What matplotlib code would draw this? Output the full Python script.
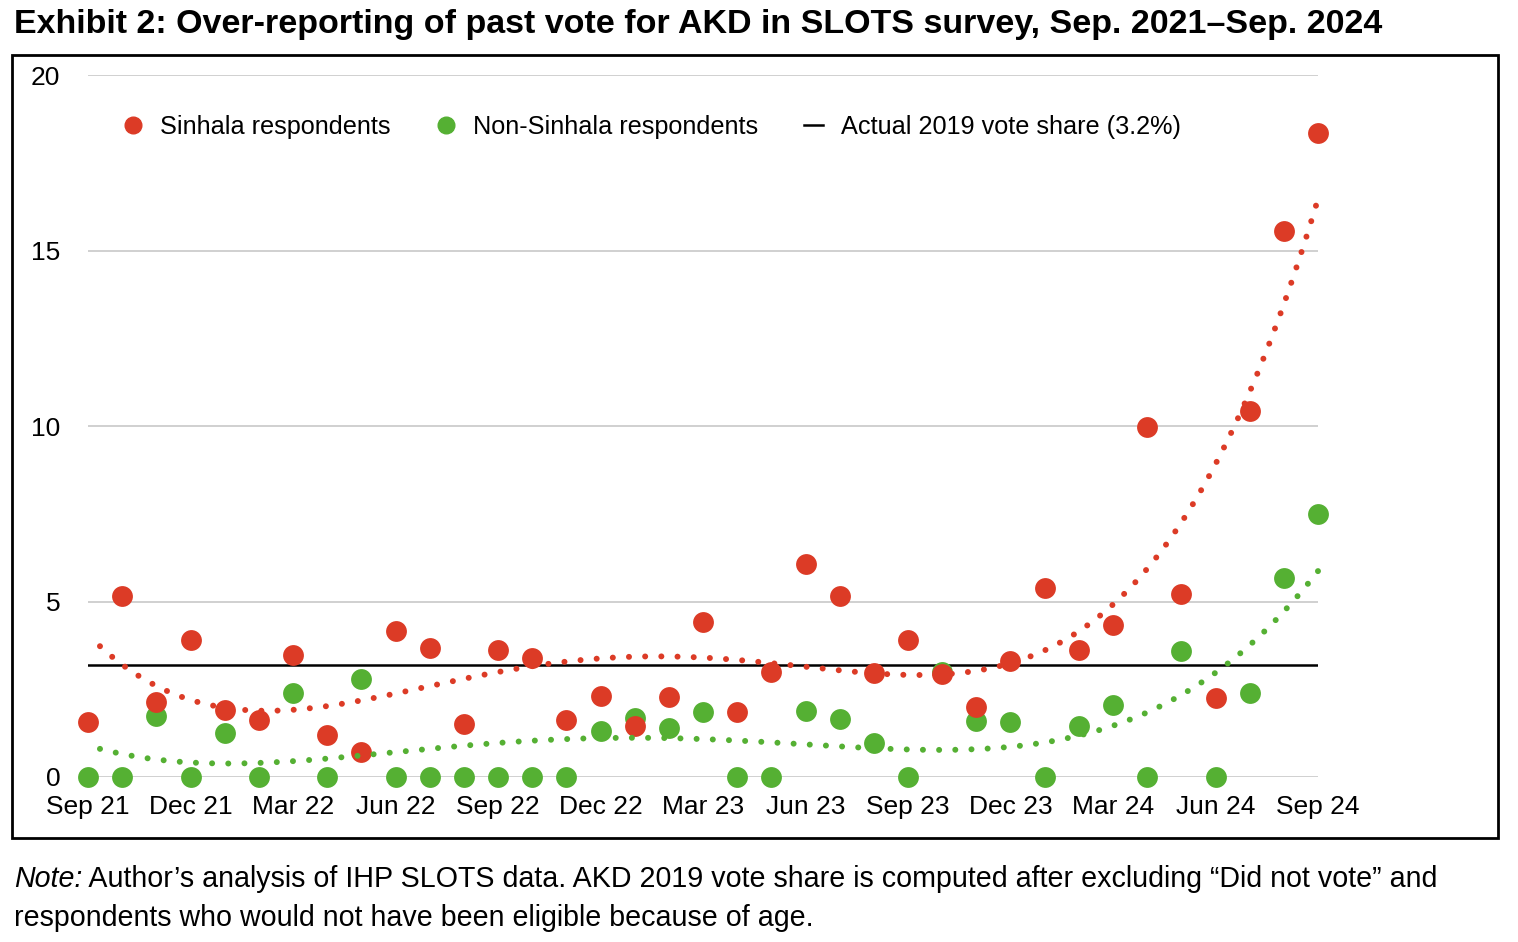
import numpy as np
import matplotlib
matplotlib.use("Agg")
import matplotlib.pyplot as plt
from matplotlib.lines import Line2D
from matplotlib.patches import Rectangle

plt.rcParams["font.family"] = ["Liberation Sans", "DejaVu Sans"]

# monthly survey waves, Sep 2021 .. Sep 2024
months = np.arange(37)
tick_pos = [0, 3, 6, 9, 12, 15, 18, 21, 24, 27, 30, 33, 36]
tick_labels = ["Sep 21", "Dec 21", "Mar 22", "Jun 22", "Sep 22", "Dec 22", "Mar 23",
               "Jun 23", "Sep 23", "Dec 23", "Mar 24", "Jun 24", "Sep 24"]

sinhala = [1.57, 5.16, 2.14, 3.90, 1.91, 1.62, 3.48, 1.20, 0.71, 4.16, 3.67, 1.51,
           3.62, 3.39, 1.62, 2.31, 1.45, 2.28, 4.42, 1.85, 2.99, 6.07, 5.16, 2.96,
           3.90, 2.93, 1.99, 3.30, 5.38, 3.62, 4.33, 9.97, 5.21, 2.25, 10.43, 15.56, 18.35]
non_sinhala = [0, 0, 1.74, 0, 1.25, 0, 2.39, 0, 2.79, 0, 0, 0,
               0, 0, 0, 1.31, 1.68, 1.40, 1.85, 0, 0, 1.88, 1.65, 0.97,
               0, 2.99, 1.60, 1.57, 0, 1.45, 2.05, 0, 3.59, 0, 2.39, 5.67, 7.49]
actual_2019 = 3.2

RED = "#dc3b26"
GREEN = "#55b033"

W, H = 1518, 942
fig = plt.figure(figsize=(W / 100, H / 100), dpi=100)
ax = fig.add_axes([88 / W, 1 - 777 / H, (1318 - 88) / W, (777 - 75) / H])

ax.set_xlim(0, 36)
ax.set_ylim(0, 20)
for s in ax.spines.values():
    s.set_visible(False)
ax.set_yticks([0, 5, 10, 15, 20])
ax.yaxis.grid(True, color="#c8c8c8", linewidth=1.2)
ax.set_axisbelow(True)
ax.tick_params(length=0, labelsize=19, pad=20)
ax.tick_params(axis="x", pad=13)
ax.set_xticks(tick_pos)
ax.set_xticklabels(tick_labels)

ax.axhline(actual_2019, color="black", linewidth=1.8, zorder=2)

ax.scatter(months, non_sinhala, s=225, color=GREEN, zorder=3, clip_on=False, linewidths=0)
ax.scatter(months, sinhala, s=225, color=RED, zorder=4, clip_on=False, linewidths=0)

# 4th order polynomial trend lines
xx = np.linspace(0.35, 36, 600)
for vals, col in [(sinhala, RED), (non_sinhala, GREEN)]:
    p = np.polyfit(months, vals, 4)
    ax.plot(xx, np.polyval(p, xx), color=col, linewidth=4.3, linestyle=(0, (0.01, 2.7)),
            dash_capstyle="round", zorder=5, clip_on=False)

handles = [
    Line2D([], [], marker="o", linestyle="none", color=RED, markersize=12),
    Line2D([], [], marker="o", linestyle="none", color=GREEN, markersize=12),
    Line2D([], [], color="black", linewidth=1.8),
]
ax.legend(handles, ["Sinhala respondents", "Non-Sinhala respondents",
                    "Actual 2019 vote share (3.2%)"],
          loc="center left", bbox_to_anchor=(0.0289, 0.926), ncol=3, frameon=False,
          fontsize=18.2, handlelength=0.76, handletextpad=0.7, columnspacing=1.8,
          borderpad=0, borderaxespad=0)

fig.patches.append(Rectangle((12 / W, 1 - 838 / H), (1498 - 12) / W, (838 - 55) / H,
                             transform=fig.transFigure, fill=False,
                             edgecolor="black", linewidth=2))

fig.text(14 / W, 1 - 24 / H, "Exhibit 2: Over-reporting of past vote for AKD in SLOTS survey, Sep. 2021\u2013Sep. 2024",
         fontsize=24.5, fontweight="bold", va="center", ha="left")

note = fig.text(14 / W, 1 - 879 / H, "Note:", fontsize=20.6, fontstyle="italic",
                va="center", ha="left")
ax.annotate(" Author\u2019s analysis of IHP SLOTS data. AKD 2019 vote share is computed after excluding \u201cDid not vote\u201d and",
            xy=(1, 0.5), xycoords=note, va="center", ha="left", fontsize=20.6,
            annotation_clip=False)
fig.text(14 / W, 1 - 918 / H, "respondents who would not have been eligible because of age.",
         fontsize=20.6, va="center", ha="left")

fig.savefig("out.png", dpi=100)
